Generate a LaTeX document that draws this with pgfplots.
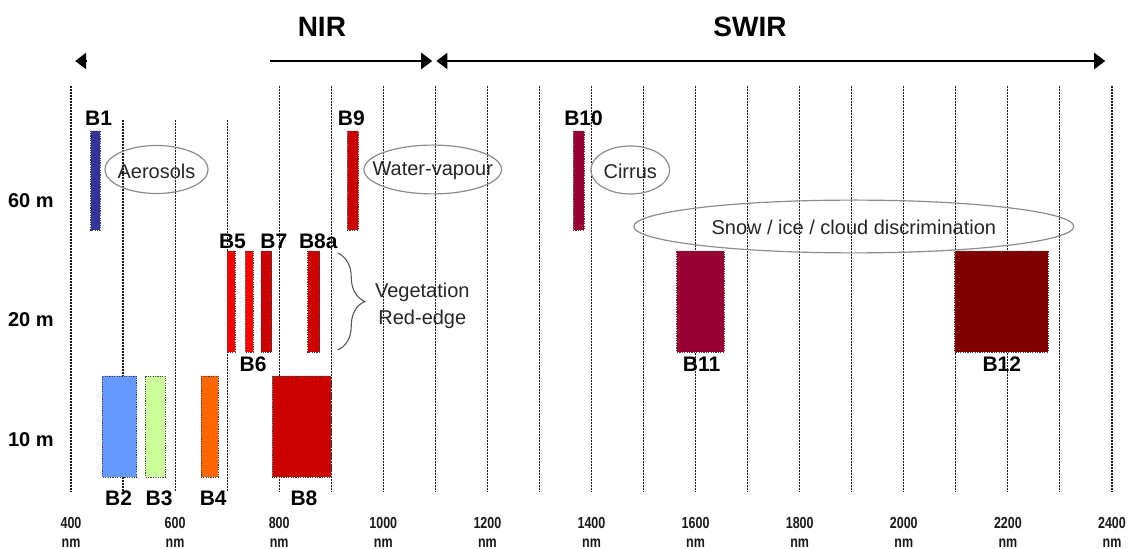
\documentclass[border=0pt]{standalone}
\usepackage{fontspec}
\setmainfont{Liberation Sans}
\usepackage{graphicx}
\usepackage{pgfplots}
\pgfplotsset{compat=1.18}
\usetikzlibrary{arrows.meta,decorations.pathreplacing}
\definecolor{cB1}{HTML}{333399}
\definecolor{cB2}{HTML}{6699FF}
\definecolor{cB3}{HTML}{CCFF99}
\definecolor{cB4}{HTML}{FF6600}
\definecolor{cB5}{HTML}{FF0000}
\definecolor{cB7}{HTML}{CC0000}
\definecolor{cB10}{HTML}{990033}
\definecolor{cB12}{HTML}{800000}
\tikzset{
  gridl/.style={black!90, line width=0.55pt, dash pattern=on 1pt off 0.5pt},
  bar/.style={draw=black!75, line width=0.45pt, dash pattern=on 0.6pt off 0.6pt},
  blab/.style={font=\fontsize{10.5}{12}\selectfont\bfseries, inner sep=0pt},
  note/.style={font=\fontsize{10}{12}\selectfont, text=black!85, inner sep=0pt},
  tlab/.style={font=\fontsize{8}{9}\selectfont\bfseries, inner sep=0pt, text=black!90},
  ell/.style={draw=black!45, line width=0.6pt},
}
\newcommand{\nt}[1]{\scalebox{0.78}[1]{#1}}
\begin{document}
\begin{tikzpicture}
\begin{axis}[
  scale only axis, width=564.5pt, height=274.5pt,
  xmin=263.6, xmax=2432.7, ymin=0, ymax=549, y dir=reverse,
  hide axis, clip=false]
\path (axis cs:263.6,0) rectangle (axis cs:2432.7,549);
% grid lines
\pgfplotsinvokeforeach{400,800,900,1000,1100,1200,1300,1400,1500,1600,1700,1800,1900,2000,2100,2200,2300,2400}{
  \addplot[gridl] coordinates {(#1,86) (#1,492)};
}
\pgfplotsinvokeforeach{500,600,700}{
  \addplot[gridl] coordinates {(#1,120) (#1,492)};
}
% 60 m bands
\addplot[bar, fill=cB1]  coordinates {(438,131) (456,131) (456,230) (438,230) (438,131)};
\addplot[bar, fill=cB7]  coordinates {(931,131) (952,131) (952,230) (931,230) (931,131)};
\addplot[bar, fill=cB10] coordinates {(1365,131) (1386,131) (1386,230) (1365,230) (1365,131)};
% 20 m bands
\addplot[bar, fill=cB5]  coordinates {(700,251) (715,251) (715,352) (700,352) (700,251)};
\addplot[bar, fill=cB5]  coordinates {(735,251) (750,251) (750,352) (735,352) (735,251)};
\addplot[bar, fill=cB7]  coordinates {(765,251) (786,251) (786,352) (765,352) (765,251)};
\addplot[bar, fill=cB7]  coordinates {(855,251) (878,251) (878,352) (855,352) (855,251)};
\addplot[bar, fill=cB10] coordinates {(1564,251) (1655,251) (1655,352) (1564,352) (1564,251)};
\addplot[bar, fill=cB12] coordinates {(2098,251) (2277,251) (2277,352) (2098,352) (2098,251)};
% 10 m bands
\addplot[bar, fill=cB2]  coordinates {(460,376) (526,376) (526,477) (460,477) (460,376)};
\addplot[bar, fill=cB3]  coordinates {(543,376) (581,376) (581,477) (543,477) (543,376)};
\addplot[bar, fill=cB4]  coordinates {(650,376) (683,376) (683,477) (650,477) (650,376)};
\addplot[bar, fill=cB7]  coordinates {(787,376) (900,376) (900,477) (787,477) (787,376)};
% band labels
\node[blab] at (axis cs:453,118) {B1};
\node[blab] at (axis cs:938.5,118) {B9};
\node[blab] at (axis cs:1384.8,118) {B10};
\node[blab] at (axis cs:710.3,241) {B5};
\node[blab] at (axis cs:789.6,241) {B7};
\node[blab] at (axis cs:875.1,241) {B8a};
\node[blab] at (axis cs:749.7,364) {B6};
\node[blab] at (axis cs:1611.5,364) {B11};
\node[blab] at (axis cs:2188.3,364) {B12};
\node[blab] at (axis cs:491.5,498) {B2};
\node[blab] at (axis cs:569.1,498) {B3};
\node[blab] at (axis cs:673.2,498) {B4};
\node[blab] at (axis cs:847.6,498) {B8};
% ellipses and notes
\draw[ell] (axis cs:564.3,169.5) ellipse [x radius=25.8pt, y radius=12pt];
\node[note] at (axis cs:564.3,171) {Aerosols};
\draw[ell] (axis cs:1095,169.5) ellipse [x radius=34.4pt, y radius=12.2pt];
\node[note] at (axis cs:1095,171) {Water-vapour};
\draw[ell] (axis cs:1474.5,170) ellipse [x radius=19.7pt, y radius=12pt];
\node[note] at (axis cs:1474.5,171) {Cirrus};
\draw[ell] (axis cs:1904,226.5) ellipse [x radius=110pt, y radius=13.2pt];
\node[note] at (axis cs:1904,227) {Snow / ice / cloud discrimination};
\draw[black!65, line width=0.55pt, decorate, decoration={brace, amplitude=13.5pt}] (axis cs:912.5,253) -- (axis cs:912.5,350);
\node[note] at (axis cs:1075,292) {Vegetation};
\node[note] at (axis cs:1075,319) {Red-edge};
% spectral regions
\draw[line width=1.25pt, {Triangle[length=5.5pt,width=8pt]}-] (axis cs:408,61) -- (axis cs:430,61);
\draw[line width=1.25pt, -{Triangle[length=5.5pt,width=8pt]}] (axis cs:782,61) -- (axis cs:1094,61);
\draw[line width=1.25pt, {Triangle[length=5.5pt,width=8pt]}-{Triangle[length=5.5pt,width=8pt]}] (axis cs:1102,61) -- (axis cs:2387,61);
\node[font=\fontsize{14}{16}\selectfont\bfseries, inner sep=0pt] at (axis cs:882,27) {NIR};
\node[font=\fontsize{14}{16}\selectfont\bfseries, inner sep=0pt] at (axis cs:1704.5,27) {SWIR};
% resolution labels
\node[font=\fontsize{10}{12}\selectfont\bfseries, inner sep=0pt] at (axis cs:323,201) {60 m};
\node[font=\fontsize{10}{12}\selectfont\bfseries, inner sep=0pt] at (axis cs:323,320) {20 m};
\node[font=\fontsize{10}{12}\selectfont\bfseries, inner sep=0pt] at (axis cs:323,440) {10 m};
% wavelength labels
\pgfplotsinvokeforeach{400,600,800,1000,1200,1400,1600,1800,2000,2200,2400}{
  \node[tlab] at (axis cs:#1,523) {\nt{#1}};
  \node[tlab] at (axis cs:#1,543) {\nt{nm}};
}
\end{axis}
\end{tikzpicture}
\end{document}
